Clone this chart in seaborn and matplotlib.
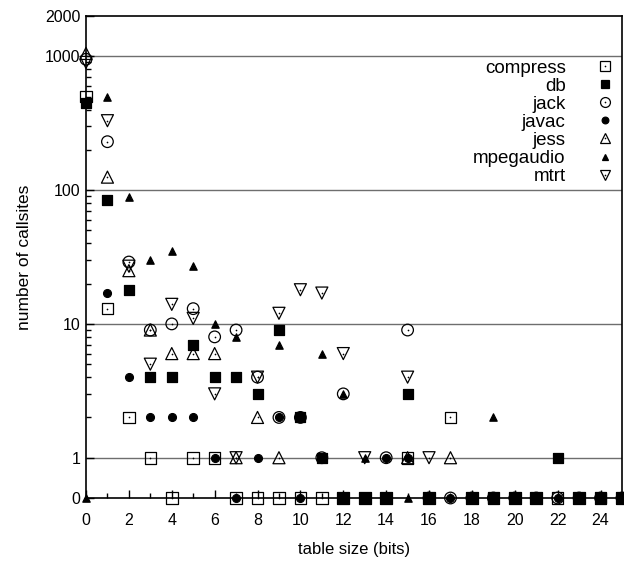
import numpy as np
import pandas as pd
import matplotlib
matplotlib.use("Agg")
import matplotlib.pyplot as plt
import seaborn as sns
from matplotlib.legend_handler import HandlerTuple
from matplotlib.ticker import FixedLocator, NullFormatter

nan = np.nan
table_bits = list(range(26))

compress  = [500, 13, 2, 1, 0, 1, 1, 0, 0, 0, 0, 0, 0, 0, 0, 1, 0, 2, 0, 0, 0, 0, 0, 0, 0, 0]
db        = [450, 84, 18, 4, 4, 7, 4, 4, 3, 9, 2, 1, 0, 0, 0, 3, 0, nan, 0, 0, 0, 0, 1, 0, 0, 0]
jack      = [950, 230, 29, 9, 10, 13, 8, 9, 4, 2, 2, 1, 3, nan, 1, 9, 0, 0, 0, 0, 0, 0, 0, 0, 0, 0]
javac     = [nan, 17, 4, 2, 2, 2, 1, 0, 1, 2, 0, 1, 0, 0, 1, 1, 0, 0, 0, 0, 0, 0, 0, 0, 0, 0]
jess      = [1050, 125, 25, 9, 6, 6, 6, 1, 2, 1, nan, nan, nan, nan, nan, 1, nan, 1, nan, nan, nan, nan, nan, nan, nan, nan]
mpegaudio = [0, 500, 89, 30, 35, 27, 10, 8, nan, 7, nan, 6, 3, 1, nan, 0, nan, nan, nan, 2, nan, nan, nan, nan, nan, nan]
mtrt      = [900, 330, 27, 5, 14, 11, 3, 1, 4, 12, 18, 17, 6, 1, nan, 4, 1, nan, nan, nan, nan, nan, nan, nan, nan, nan]

series_names = ["compress", "db", "jack", "javac", "jess", "mpegaudio", "mtrt"]
series_vals = [compress, db, jack, javac, jess, mpegaudio, mtrt]

ytick_vals = [0.5, 1, 10, 100, 1000, 2000]
ytick_labels = ["0", "1", "10", "100", "1000", "2000"]
xtick_vals = list(range(0, 25, 2))

# marker style per series: (marker, size, open?)
styles = {
    "compress":  ("s", 70, True),
    "db":        ("s", 45, False),
    "jack":      ("o", 70, True),
    "javac":     ("o", 32, False),
    "jess":      ("^", 75, True),
    "mpegaudio": ("^", 28, False),
    "mtrt":      ("v", 75, True),
}

plt.rcParams["font.family"] = ["Liberation Sans", "DejaVu Sans"]
fig = plt.figure(figsize=(6.24, 5.61), dpi=100)
ax = fig.add_axes([86/624, 1-498/561, (622-86)/624, (498-16)/561])
ax.set_yscale("log")
ax.set_ylim(0.5, 2000)
ax.set_xlim(0, 25)

for yv in [1, 10, 100, 1000]:
    ax.axhline(yv, color="#6e6e6e", lw=1.0, zorder=1)

handles = []
for name, vals in zip(series_names, series_vals):
    df = pd.DataFrame({"x": table_bits, "y": vals}).dropna()
    df["y"] = df["y"].where(df["y"] > 0, 0.5)
    m, s, is_open = styles[name]
    sns.scatterplot(data=df, x="x", y="y", ax=ax, marker=m, s=s,
                    color="black", edgecolor="black", linewidth=0.9,
                    clip_on=False, zorder=3, legend=False)
    coll = ax.collections[-1]
    if is_open:
        coll.set_facecolor("none")
        sns.scatterplot(data=df, x="x", y="y", ax=ax, marker="o", s=1.5,
                        color="black", linewidth=0, clip_on=False, zorder=3,
                        legend=False)
        h = (plt.Line2D([], [], ls="none", marker=m, ms=np.sqrt(s)*0.85,
                        mfc="none", mec="black", mew=0.9),
             plt.Line2D([], [], ls="none", marker="o", ms=1.2, mfc="black",
                        mec="black", mew=0))
    else:
        h = (plt.Line2D([], [], ls="none", marker=m, ms=np.sqrt(s)*0.85,
                        mfc="black", mec="black", mew=0.9),)
    handles.append(h)

leg = ax.legend(handles, series_names, loc="upper right",
                bbox_to_anchor=(1.0, 0.925), frameon=False, markerfirst=False,
                fontsize=13.5, labelspacing=0.05, handlelength=1.0,
                handletextpad=1.6, borderaxespad=0.0, borderpad=0.4,
                handler_map={tuple: HandlerTuple(ndivide=1, pad=0)})

ax.yaxis.set_major_locator(FixedLocator(ytick_vals))
ax.set_yticklabels(ytick_labels)
minor_y = [v * 10**e for e in range(0, 3) for v in range(2, 10)]
ax.yaxis.set_minor_locator(FixedLocator(minor_y))
ax.yaxis.set_minor_formatter(NullFormatter())
ax.set_xticks(xtick_vals)
ax.set_xticks(list(range(1, 25, 2)), minor=True)

ax.tick_params(axis="both", which="major", direction="in", length=6,
               width=1, labelsize=11.5, color="black")
ax.tick_params(axis="x", which="major", pad=11)
ax.tick_params(axis="y", which="major", pad=4)
ax.tick_params(axis="both", which="minor", direction="in", length=3.5,
               width=1, color="black")
ax.tick_params(top=False, right=False)

for sp in ax.spines.values():
    sp.set_color("black")
    sp.set_linewidth(1.2)

ax.set_xlabel("table size (bits)", fontsize=12, labelpad=10)
ax.set_ylabel("number of callsites", fontsize=12.5, labelpad=9)

fig.savefig("out.png", dpi=100)
